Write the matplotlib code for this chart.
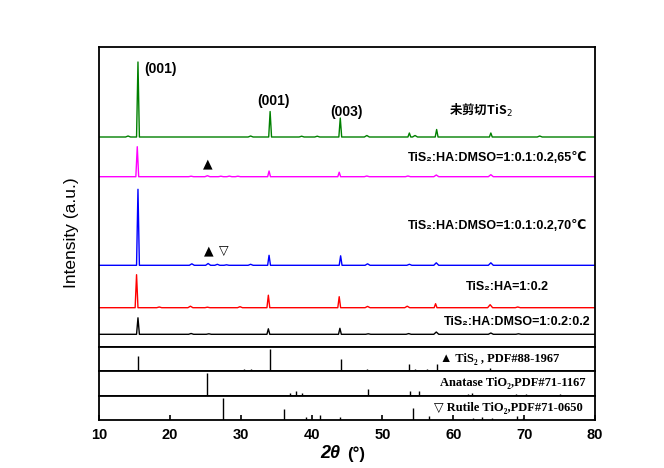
import matplotlib
matplotlib.use('Agg')
import matplotlib.pyplot as plt

# peak lists: position (2theta) and height (panel px)
green_pos = [14.1, 15.5, 31.4, 34.15, 38.6, 40.8, 44.05, 47.8, 53.8, 54.6, 57.65, 65.3, 72.2]
green_h   = [1.0, 75, 1.0, 25.5, 0.8, 0.8, 19, 1.5, 4, 1.5, 7.5, 4, 1.0]
magenta_pos = [15.4, 23.0, 25.3, 27.2, 28.4, 29.6, 34.0, 43.9, 47.8, 53.6, 57.6, 65.3]
magenta_h   = [30, 0.5, 1.0, 0.5, 0.6, 0.5, 5.7, 4.5, 0.7, 0.7, 1.7, 2.0]
blue_pos = [15.5, 23.1, 25.4, 26.7, 28.0, 31.4, 34.0, 44.1, 47.9, 53.8, 57.6, 65.3]
blue_h   = [76, 1.5, 1.8, 1.0, 0.5, 1.0, 10, 9.5, 1.5, 1.0, 2.5, 2.5]
red_pos = [15.3, 18.5, 22.9, 25.3, 29.9, 33.9, 43.9, 47.9, 53.5, 57.5, 65.2, 69.1]
red_h   = [33, 0.7, 1.5, 0.5, 1.0, 12.5, 11, 1.3, 1.5, 4.0, 3.0, 0.7]
black_pos = [15.5, 23.0, 25.5, 33.9, 44.0, 48.0, 53.7, 57.6, 65.3, 69.2]
black_h   = [16.5, 0.8, 0.5, 5.5, 6.0, 0.5, 0.7, 2.3, 1.3, 0.5]

offsets = [210, 170.3, 81.7, 39.3, 12.7]
colors = ['green', 'magenta', 'blue', 'red', 'black']

# reference cards (relative stick heights)
tis2_pos = [15.55, 30.4, 31.5, 34.2, 44.15, 47.8, 53.8, 54.6, 56.3, 57.7, 64.2, 65.2, 68.4, 69.0, 72.7]
tis2_h   = [0.62, 0.08, 0.08, 0.9, 0.5, 0.08, 0.28, 0.08, 0.08, 0.28, 0.05, 0.12, 0.06, 0.06, 0.05]
anat_pos = [25.3, 36.9, 37.8, 38.6, 48.0, 53.9, 55.1, 62.1, 62.7, 68.8, 70.3, 75.0, 76.0]
anat_h   = [0.92, 0.1, 0.2, 0.1, 0.28, 0.2, 0.17, 0.05, 0.1, 0.05, 0.06, 0.08, 0.03]
rut_pos = [27.45, 36.1, 39.2, 41.2, 44.05, 54.3, 56.6, 62.8, 64.0, 65.5, 69.0, 69.8]
rut_h   = [0.9, 0.46, 0.12, 0.2, 0.12, 0.48, 0.17, 0.08, 0.1, 0.06, 0.15, 0.07]

sans = ['Liberation Sans', 'DejaVu Sans']
serif = ['Liberation Serif', 'DejaVu Serif']


def trace(pos, h, w=0.2):
    xs, ys = [10], [0]
    for p, v in zip(pos, h):
        ww = w if v > 3 else 0.35
        xs += [p - ww, p, p + ww]
        ys += [0, v, 0]
    xs.append(80)
    ys.append(0)
    return xs, ys


fig = plt.figure(figsize=(6.64, 4.68), dpi=100)
L, W = 99 / 664, 496 / 664
H = 468.0
ax = fig.add_axes([L, (H - 347) / H, W, 300 / H])
axs = [fig.add_axes([L, (H - 347 - 24.3 * (i + 1)) / H, W, 24.3 / H]) for i in range(3)]

for (pos, h), off, c in zip([(green_pos, green_h), (magenta_pos, magenta_h), (blue_pos, blue_h),
                             (red_pos, red_h), (black_pos, black_h)], offsets, colors):
    xs, ys = trace(pos, h)
    ax.plot(xs, [y + off for y in ys], color=c, lw=1.0)

ax.set_xlim(10, 80)
ax.set_ylim(0, 300)
ax.set_xticks([])
ax.set_yticks([])

tk = dict(fontsize=10, fontweight='bold', family=sans)
ax.text(16.35, 278, '(001)', ha='left', va='center', **tk)
ax.text(34.6, 246, '(001)', ha='center', va='center', **tk)
ax.text(44.9, 235, '(003)', ha='center', va='center', **tk)
ax.text(63.9, 237, '未剪切TiS$_2$', ha='center', va='center', fontsize=9, fontweight='bold',
        family=['Noto Sans CJK SC', 'DejaVu Sans'])

lb = dict(fontsize=9, fontweight='bold', family=sans)
ax.text(25.4, 183, '▲', ha='center', va='center', fontsize=9, family='DejaVu Sans')
ax.text(78.9, 189, 'TiS₂:HA:DMSO=1:0.1:0.2,65℃', ha='right', va='center', **lb)
ax.text(25.5, 96, '▲', ha='center', va='center', fontsize=9, family='DejaVu Sans')
ax.text(27.6, 96, '▽', ha='center', va='center', fontsize=9, fontweight='bold', family='DejaVu Sans')
ax.text(78.9, 121, 'TiS₂:HA:DMSO=1:0.1:0.2,70℃', ha='right', va='center', **lb)
ax.text(67.7, 60, 'TiS₂:HA=1:0.2', ha='center', va='center', **lb)
ax.text(79.3, 25, 'TiS₂:HA:DMSO=1:0.2:0.2', ha='right', va='center', **lb)

cards = [(tis2_pos, tis2_h), (anat_pos, anat_h), (rut_pos, rut_h)]
for a, (pos, h) in zip(axs, cards):
    a.vlines(pos, 0, h, color='black', lw=1.0)
    a.set_xlim(10, 80)
    a.set_ylim(0, 1)
    a.set_yticks([])
    a.set_xticks([])

cl = dict(fontsize=9, fontweight='bold', family=serif, va='center')
axs[0].text(75.0, 0.5, '▲ TiS₂ , PDF#88-1967', ha='right', **cl)
axs[1].text(78.6, 0.5, 'Anatase TiO₂,PDF#71-1167', ha='right', **cl)
axs[2].text(78.3, 0.5, '▽ Rutile TiO₂,PDF#71-0650', ha='right', **cl)

bot = axs[2]
bot.set_xticks(range(10, 81, 10))
bot.tick_params(axis='x', direction='in', length=3.5, width=1.2, pad=6)
for t in bot.get_xticklabels():
    t.set_fontweight('bold')
    t.set_fontsize(10.5)
    t.set_family(sans)

for a in [ax] + axs:
    for s in a.spines.values():
        s.set_linewidth(1.3)

fig.text(340 / 664, (H - 454) / H, '2θ', ha='right', va='center', fontsize=13,
         fontweight='bold', fontstyle='italic', family=sans)
fig.text(347 / 664, (H - 454) / H, '(°)', ha='left', va='center', fontsize=12,
         fontweight='bold', family=sans)
fig.text(0.108, (H - 233) / H, 'Intensity (a.u.)', rotation=90, ha='center', va='center',
         fontsize=12.5, family=sans)

fig.savefig('out.png', dpi=100)
